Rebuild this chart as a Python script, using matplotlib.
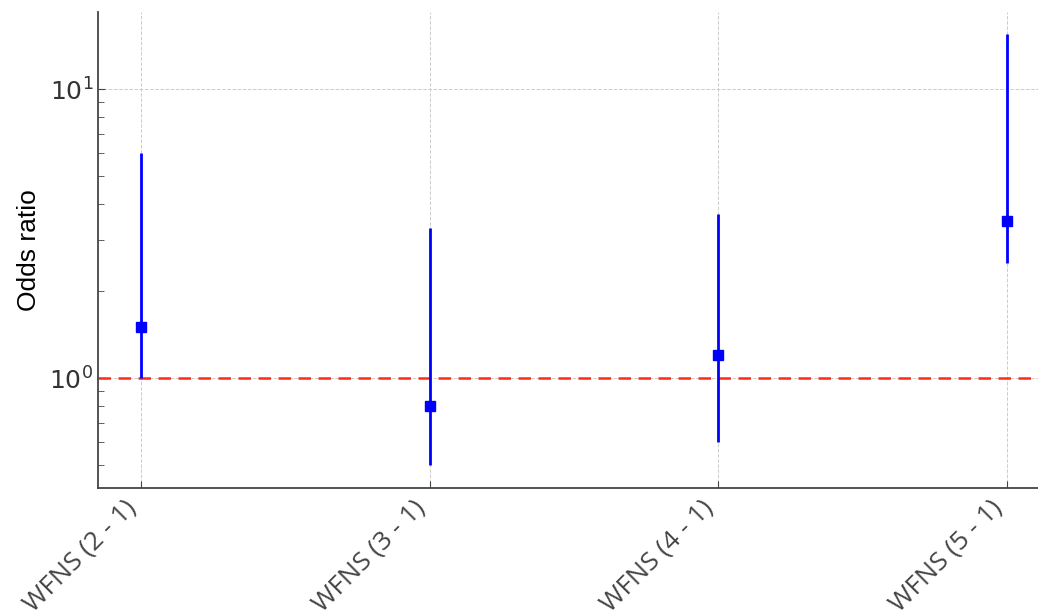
import numpy as np
import matplotlib.pyplot as plt

# Datos: odds ratio e intervalos de confianza por categoría WFNS
categorias = ['WFNS (2 - 1)', 'WFNS (3 - 1)', 'WFNS (4 - 1)', 'WFNS (5 - 1)']
odds_ratio = [1.5, 0.8, 1.2, 3.5]
ic_inferior = [1.0, 0.5, 0.6, 2.5]
ic_superior = [6.0, 3.3, 3.7, 15.5]

x = np.arange(len(categorias))
or_ = np.array(odds_ratio)
err = [or_ - np.array(ic_inferior), np.array(ic_superior) - or_]

fig = plt.figure(figsize=(10.38, 6.13), dpi=100)
ax = fig.add_axes([98 / 1038, 1 - 488 / 613, 952 / 1038, 476 / 613])

ax.errorbar(x, or_, yerr=err, fmt='s', color='#0000ff', ecolor='#0000ff',
            elinewidth=2, markersize=7, capsize=0, zorder=3)
ax.axhline(1, color='#ff2a1a', linestyle='--', linewidth=1.8, dashes=(5, 3), zorder=2)

ax.set_yscale('log')
ax.set_ylim(0.417, 18.5)
ax.set_xlim(-0.15, 3.15)

ax.set_xticks(x)
ax.set_xticklabels(categorias, rotation=45, ha='right',
                   fontsize=19, family='Open Sans', color='#262626')
ax.set_ylabel('Odds ratio', fontsize=19, family='Liberation Sans', labelpad=6)

ax.tick_params(axis='both', which='both', direction='in', colors='#444444')
ax.tick_params(axis='y', which='major', length=5, labelsize=18, labelcolor='#333333')
ax.tick_params(axis='y', which='minor', length=4)
ax.tick_params(axis='x', length=5, pad=5)

ax.grid(True, which='major', linestyle='--', linewidth=0.7, color='#cccccc')
for s in ['top', 'right']:
    ax.spines[s].set_visible(False)
for s in ['left', 'bottom']:
    ax.spines[s].set_color('#444444')
    ax.spines[s].set_linewidth(1.3)

fig.savefig('out.png', dpi=100)
